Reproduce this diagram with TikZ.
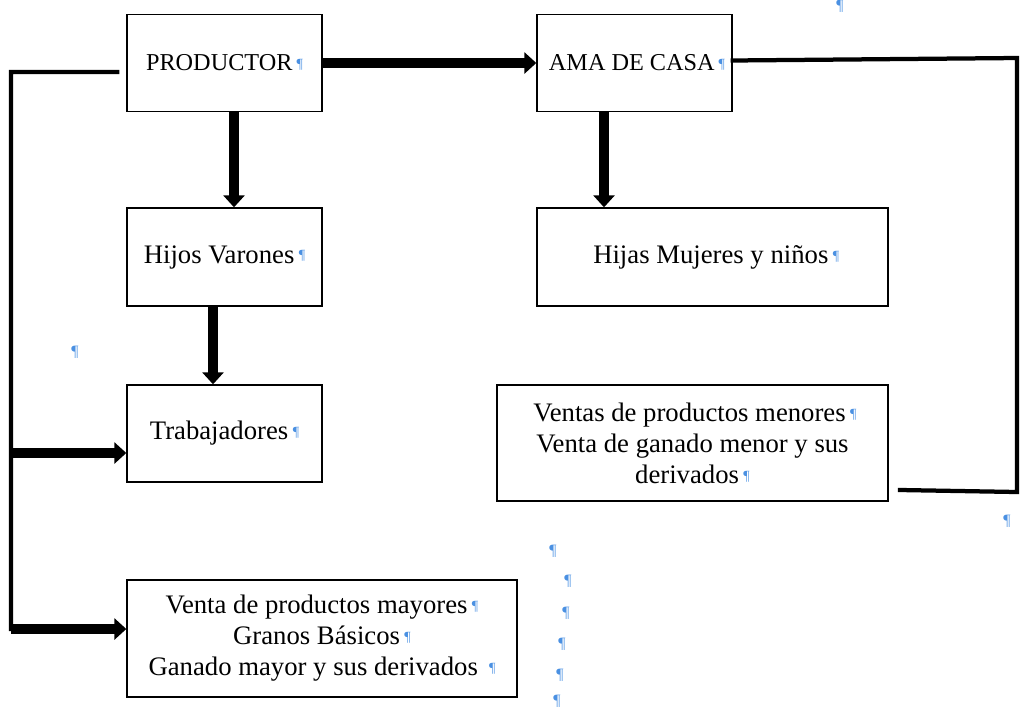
\documentclass[tikz,border=0pt]{standalone}
\usepackage{fontspec}
\setmainfont{Liberation Serif}
\usetikzlibrary{arrows.meta,calc}
\definecolor{pilblue}{RGB}{74,144,226}

\begin{document}
\begin{tikzpicture}[x=0.02cm,y=-0.02cm,font=\fontsize{15.2}{17.6}\selectfont]
\tikzset{
  box/.style={draw, line width=0.8pt, align=center, inner sep=0pt},
  capbox/.style={box, font=\fontsize{13.8}{16}\selectfont},
  bigarrow/.style={line width=0.19cm, -{Triangle[length=0.24cm,width=0.42cm]}},
  loopline/.style={line width=0.085cm, line cap=rect},
  pil/.style={text=pilblue, font=\small, inner sep=0pt}
}
\newcommand{\pilc}{\,\raisebox{0.25ex}{\color{pilblue}\footnotesize\P}}

\useasboundingbox (0,0) rectangle (1024,708);

\node[capbox, minimum width=3.9cm, minimum height=1.94cm] (prod) at (224.5,63) {PRODUCTOR\pilc};
\node[capbox, minimum width=3.9cm, minimum height=1.94cm] (ama) at (634.5,63) {\hspace{0.1cm}AMA DE CASA\pilc};
\node[box, minimum width=3.9cm, minimum height=1.96cm] (hijos) at (224.5,257) {Hijos Varones\pilc};
\node[box, minimum width=7.02cm, minimum height=1.96cm] (hijas) at (712.5,257) {\hspace{0.15cm}Hijas Mujeres y niños\pilc};
\node[box, minimum width=3.9cm, minimum height=1.94cm] (trab) at (224.5,433.5) {Trabajadores\pilc};
\node[box, minimum width=7.82cm, minimum height=2.32cm] (menores) at (692.5,443)
  {\hspace{0.1cm}Ventas de productos menores\pilc\\Venta de ganado menor y sus\\derivados\pilc};
\node[box, minimum width=7.8cm, minimum height=2.34cm] (mayores) at (322,638.5)
  {Venta de productos mayores\pilc\\Granos Básicos\pilc\\Ganado mayor y sus derivados \pilc};

\draw[bigarrow] (prod.east) -- (ama.west);
\draw[bigarrow] ([xshift=0.19cm]prod.south) -- ([xshift=0.19cm]hijos.north);
\draw[bigarrow] ([xshift=-0.23cm]hijos.south) -- ([xshift=-0.23cm]trab.north);
\draw[bigarrow] ([xshift=-0.61cm]ama.south) -- ([xshift=-0.61cm]ama.south |- hijas.north);

\coordinate (lt) at (11,72);
\coordinate (lm) at (11,453);
\coordinate (lb) at (11,629);
\draw[loopline] ([yshift=-0.18cm,xshift=-0.18cm]prod.west) -- (lt) -- (lb);
\draw[bigarrow] (lm) -- (lm -| trab.west);
\draw[bigarrow] (lb) -- (lb -| mayores.west);

\coordinate (rt) at (1017,58);
\coordinate (rb) at (1017,492);
\coordinate (re) at (900,490);
\draw[loopline] ([yshift=0.05cm]ama.east) -- (rt) -- (rb) -- (re);

\foreach \x/\y [count=\i] in {840/6, 75/352, 1007/521, 553/551, 568/581, 566/613, 562/644, 560/675, 557/701}
  \node[pil] (pil\i) at (\x,\y) {\P};

\end{tikzpicture}
\end{document}
